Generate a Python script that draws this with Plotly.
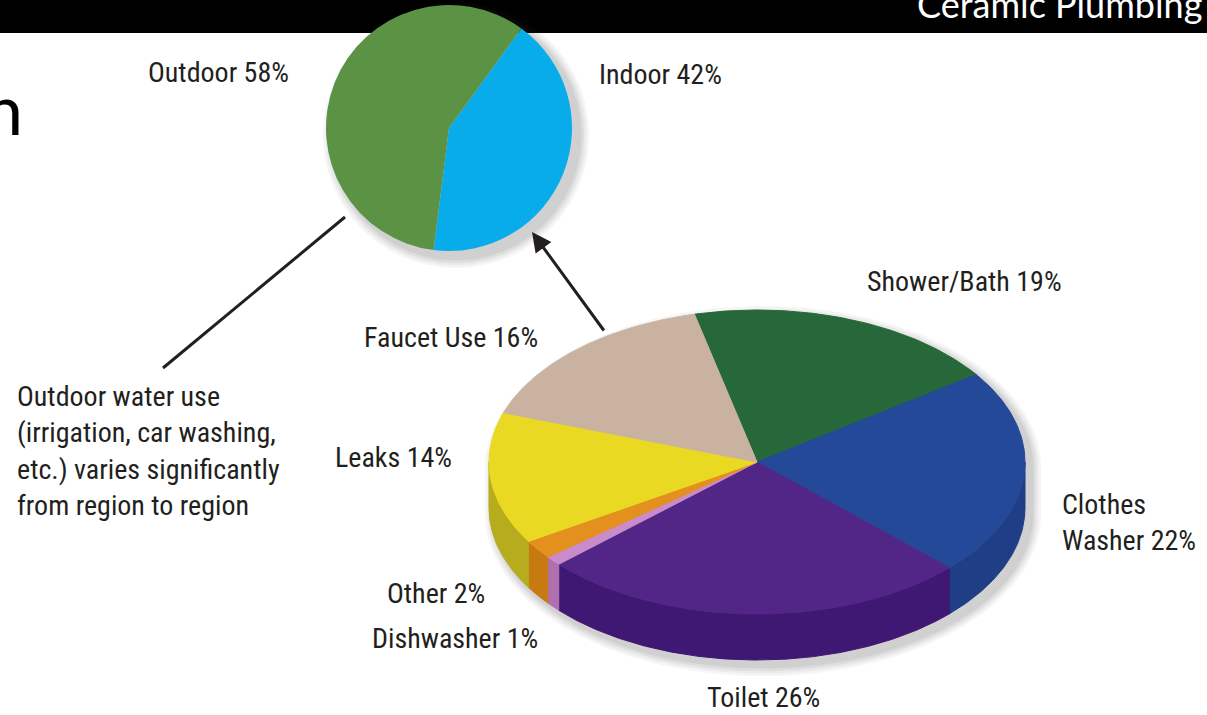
import numpy as np
import plotly.graph_objects as go

W, H = 1207, 715

# Share of household water use: indoor vs outdoor
split_labels = ["Indoor", "Outdoor"]
split_values = [42, 58]

# Indoor water use by fixture (percent)
use_labels = ["Shower/Bath", "Clothes Washer", "Toilet", "Dishwasher", "Other", "Leaks", "Faucet Use"]
use_values = [19, 22, 26, 1, 2, 14, 16]

note_lines = ["Outdoor water use", "(irrigation, car washing,", "etc.) varies significantly",
              "from region to region"]

# ---- styling -------------------------------------------------------------
LABEL_FONT = dict(family="Liberation Sans Narrow, Arial Narrow, Roboto Condensed, DejaVu Sans Condensed, sans-serif",
                  size=28, color="#231F20")
HEAD_FONT = "Lato, Open Sans, sans-serif"

split_colors = {"Indoor": "#08ACEB", "Outdoor": "#5B9243"}
top_colors = {"Shower/Bath": "#27683A", "Clothes Washer": "#244998", "Toilet": "#522687",
              "Dishwasher": "#C98BC9", "Other": "#E3901F", "Leaks": "#EAD923", "Faucet Use": "#C9B3A0"}
side_colors = {"Shower/Bath": "#1F5530", "Clothes Washer": "#1F3E85", "Toilet": "#3F1873",
               "Dishwasher": "#B070B0", "Other": "#C77A12", "Leaks": "#B7AC1E", "Faucet Use": "#A8937F"}

# label anchor points (left edge, vertical centre) in page pixels
label_pos = {"Indoor": (597, 74), "Outdoor": (146, 72),
             "Shower/Bath": (865, 281), "Clothes Washer": (1060, 522), "Toilet": (705, 697),
             "Dishwasher": (370, 638), "Other": (385, 593), "Leaks": (333, 457),
             "Faucet Use": (362, 337)}
label_text = {"Clothes Washer": "Clothes<br>Washer"}

# tilted pie geometry (page pixels)
cx, cy, a, b, depth = 757, 462, 268, 152, 46
start_angle = -13.5  # degrees clockwise from 12 o'clock

# small pie geometry
scx, scy, sr = 449, 128, 123

fig = go.Figure()


def rim(t0, t1, dy=0.0):
    n = max(int(abs(t1 - t0) * 2), 2)
    t = np.radians(np.linspace(t0, t1, n))
    return cx + a * np.sin(t), cy + dy - b * np.cos(t)


def silhouette(ox, oy, grow):
    t_top = np.radians(np.linspace(-90, 90, 180))
    t_bot = np.radians(np.linspace(90, 270, 180))
    xs = np.concatenate([cx + (a + grow) * np.sin(t_top), cx + (a + grow) * np.sin(t_bot)])
    ys = np.concatenate([cy - (b + grow) * np.cos(t_top), cy + depth - (b + grow) * np.cos(t_bot)])
    return xs + ox, ys + oy


# soft drop shadows
for k, op in enumerate([0.05, 0.06, 0.07, 0.08]):
    g = 10 - 2.5 * k
    xs, ys = silhouette(6, 6, g)
    fig.add_trace(go.Scatter(x=xs, y=ys, mode="lines", fill="toself", fillcolor=f"rgba(60,60,60,{op})",
                             line=dict(width=0), hoverinfo="skip", showlegend=False))
    t = np.radians(np.linspace(0, 360, 240))
    fig.add_trace(go.Scatter(x=scx + 7 + (sr + g) * np.sin(t), y=scy + 7 + (sr + g) * np.cos(t),
                             mode="lines", fill="toself", fillcolor=f"rgba(60,60,60,{op})",
                             line=dict(width=0), hoverinfo="skip", showlegend=False))

# slice boundaries from the values
total = float(sum(use_values))
bounds = start_angle + 360.0 * np.concatenate([[0], np.cumsum(use_values)]) / total

# sides (front half only)
for i, lab in enumerate(use_labels):
    t0, t1 = max(bounds[i], 90.0), min(bounds[i + 1], 270.0)
    if t1 <= t0:
        continue
    xt, yt = rim(t0, t1)
    xb, yb = rim(t0, t1, depth)
    xs = np.concatenate([xt, xb[::-1], xt[:1]])
    ys = np.concatenate([yt, yb[::-1], yt[:1]])
    fig.add_trace(go.Scatter(x=xs, y=ys, mode="lines", fill="toself", fillcolor=side_colors[lab],
                             line=dict(width=1, color=side_colors[lab]), hoverinfo="skip", showlegend=False))

# top faces
for i, lab in enumerate(use_labels):
    xr, yr = rim(bounds[i], bounds[i + 1])
    xs = np.concatenate([[cx], xr, [cx]])
    ys = np.concatenate([[cy], yr, [cy]])
    fig.add_trace(go.Scatter(x=xs, y=ys, mode="lines", fill="toself", fillcolor=top_colors[lab],
                             line=dict(width=1, color=top_colors[lab]), name=lab,
                             hoverinfo="name", showlegend=False))

# indoor / outdoor pie
fig.add_trace(go.Pie(labels=split_labels, values=split_values, sort=False, direction="clockwise",
                     rotation=36, textinfo="none", hoverinfo="label+percent",
                     marker=dict(colors=[split_colors[l] for l in split_labels], line=dict(width=0)),
                     domain=dict(x=[(scx - sr) / W, (scx + sr) / W],
                                 y=[1 - (scy + sr) / H, 1 - (scy - sr) / H]),
                     showlegend=False))

annotations = []
for lab, val in list(zip(split_labels, split_values)) + list(zip(use_labels, use_values)):
    x, y = label_pos[lab]
    annotations.append(dict(x=x, y=y, xref="x", yref="y", xanchor="left", yanchor="middle",
                            align="left", showarrow=False, font=LABEL_FONT,
                            text=f"{label_text.get(lab, lab)} {val}%"))

annotations.append(dict(x=15, y=451, xref="x", yref="y", xanchor="left", yanchor="middle",
                        align="left", showarrow=False, font=LABEL_FONT, text="<br>".join(note_lines)))

# heading pieces
annotations.append(dict(x=1204, y=4, xref="x", yref="y", xanchor="right", yanchor="middle",
                        showarrow=False, text="Ceramic Plumbing",
                        font=dict(family=HEAD_FONT, size=36, color="white")))
annotations.append(dict(x=25, y=108, xref="x", yref="y", xanchor="right", yanchor="middle",
                        showarrow=False, text="n", font=dict(family=HEAD_FONT, size=70, color="black")))

# pointer from the fixture pie up to the indoor slice
annotations.append(dict(x=532, y=232, ax=605, ay=332, xref="x", yref="y", axref="x", ayref="y",
                        text="", showarrow=True, arrowhead=2, arrowsize=1.3, arrowwidth=3,
                        arrowcolor="#231F20"))

shapes = [
    dict(type="rect", xref="x", yref="y", x0=0, x1=W, y0=0, y1=33, fillcolor="black",
         line=dict(width=0), layer="below"),
    dict(type="line", xref="x", yref="y", x0=163, y0=368, x1=345, y1=217,
         line=dict(color="#231F20", width=3)),
]

fig.update_layout(
    width=W, height=H, margin=dict(l=0, r=0, t=0, b=0),
    paper_bgcolor="white", plot_bgcolor="white",
    xaxis=dict(range=[0, W], visible=False, fixedrange=True),
    yaxis=dict(range=[H, 0], visible=False, fixedrange=True),
    annotations=annotations, shapes=shapes,
)

fig.write_html("out.html", config={"displayModeBar": False})
